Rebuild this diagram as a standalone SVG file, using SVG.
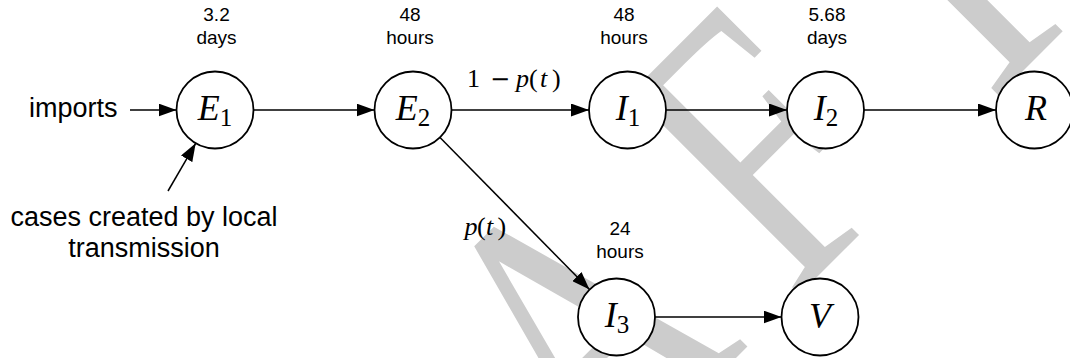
<svg xmlns="http://www.w3.org/2000/svg" width="1070" height="358" viewBox="0 0 1070 358">
<style>
.wm{font-family:"Liberation Serif","Times New Roman",serif;font-size:400px;fill:#cccccc}
.node circle{fill:#fff;stroke:#000;stroke-width:1.8}
.math{font-family:"Liberation Serif","Times New Roman",serif;font-style:italic;font-size:36px;text-anchor:middle;fill:#000}
.sub{font-style:normal;font-size:25px}
.dur{font-family:"Liberation Sans",Arial,sans-serif;font-size:19px;text-anchor:middle;fill:#000}
.big{font-family:"Liberation Sans",Arial,sans-serif;font-size:27px;fill:#000}
.elab{font-family:"Liberation Serif","Times New Roman",serif;font-size:26px;fill:#000}
.it{font-style:italic}
.edge{stroke:#000;stroke-width:1.5;fill:none;marker-end:url(#ah)}
</style>
<defs>
<marker id="ah" markerUnits="userSpaceOnUse" markerWidth="18" markerHeight="13" refX="18" refY="6.5" orient="auto">
<path d="M0,0 L18,6.5 L0,13 Z" fill="#000"/>
</marker>
</defs>
<g id="watermark">
<text class="wm" transform="translate(547,547) rotate(-45) scale(0.75,1)"><tspan x="-529">D</tspan><tspan x="-240">R</tspan><tspan x="92">A</tspan><tspan x="462">F</tspan><tspan x="790">T</tspan></text>
</g>
<g id="connectors">
<line class="edge" x1="130" y1="110" x2="176.5" y2="110"/>
<line class="edge" x1="168" y1="191" x2="195.7" y2="143.3"/>
<line class="edge" x1="253.5" y1="110" x2="374.5" y2="110"/>
<line class="edge" x1="451.5" y1="110" x2="589" y2="110"/>
<line class="edge" x1="666" y1="110" x2="787" y2="110"/>
<line class="edge" x1="864" y1="110" x2="996" y2="110"/>
<line class="edge" x1="440" y1="137.5" x2="589.5" y2="289.5"/>
<line class="edge" x1="655" y1="317" x2="781.5" y2="317"/>
<text class="elab" y="87"><tspan x="467">1</tspan><tspan x="490" font-family="DejaVu Serif" font-size="24">−</tspan><tspan class="it" x="516">p</tspan><tspan x="529">(</tspan><tspan class="it" x="540">t</tspan><tspan x="552">)</tspan></text>
<text class="elab" y="235"><tspan class="it" x="464.5">p</tspan><tspan x="477">(</tspan><tspan class="it" x="486">t</tspan><tspan x="497.5">)</tspan></text>
</g>
<g id="imports">
<text class="big" x="29" y="117">imports</text>
</g>
<g id="local">
<text class="big" x="144" y="226" text-anchor="middle">cases created by local</text>
<text class="big" x="144" y="257" text-anchor="middle">transmission</text>
</g>
<g id="E1" class="node">
<circle cx="215" cy="110" r="38.5"/>
<text class="math" x="215" y="120">E<tspan class="sub" dy="6">1</tspan></text>
<text class="dur" x="216.5" y="21">3.2</text>
<text class="dur" x="216.5" y="44">days</text>
</g>
<g id="E2" class="node">
<circle cx="413" cy="110" r="38.5"/>
<text class="math" x="413" y="120">E<tspan class="sub" dy="6">2</tspan></text>
<text class="dur" x="410" y="21">48</text>
<text class="dur" x="410" y="44">hours</text>
</g>
<g id="I1" class="node">
<circle cx="627.5" cy="110" r="38.5"/>
<text class="math" x="628" y="120">I<tspan class="sub" dy="6">1</tspan></text>
<text class="dur" x="624" y="21">48</text>
<text class="dur" x="624" y="44">hours</text>
</g>
<g id="I2" class="node">
<circle cx="825.5" cy="110" r="38.5"/>
<text class="math" x="826" y="120">I<tspan class="sub" dy="6">2</tspan></text>
<text class="dur" x="827" y="21">5.68</text>
<text class="dur" x="827" y="44">days</text>
</g>
<g id="R" class="node">
<circle cx="1034.5" cy="110" r="38.5"/>
<text class="math" x="1036" y="120">R</text>
</g>
<g id="I3" class="node">
<circle cx="616.5" cy="317" r="38.5"/>
<text class="math" x="617" y="327">I<tspan class="sub" dy="6">3</tspan></text>
<text class="dur" x="620" y="235">24</text>
<text class="dur" x="620" y="258">hours</text>
</g>
<g id="V" class="node">
<circle cx="820" cy="317" r="38.5"/>
<text class="math" x="820" y="328">V</text>
</g>
</svg>
